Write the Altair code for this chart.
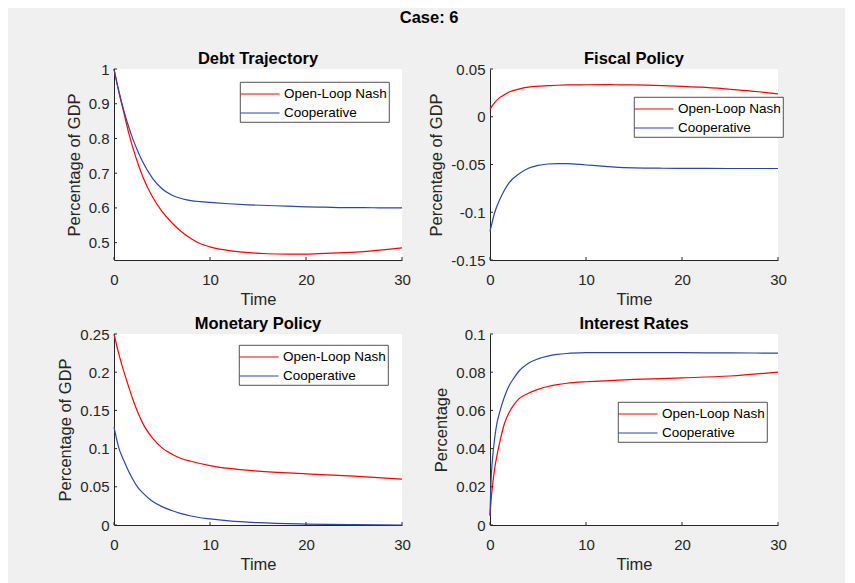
import altair as alt
import pandas as pd

SERIES = ["Open-Loop Nash", "Cooperative"]
COLORS = ["#ff0000", "#2a46a8"]

# Debt Trajectory
debt_t = [0, 0.5, 1, 1.5, 2, 2.5, 3, 4, 5, 6, 7, 8, 9, 10, 12, 14, 16, 18, 20, 22, 24, 26, 28, 30]
debt_oln = [1.0, 0.934, 0.877, 0.819, 0.770, 0.727, 0.690, 0.632, 0.590, 0.558, 0.532, 0.512, 0.497,
            0.488, 0.477, 0.471, 0.468, 0.467, 0.467, 0.469, 0.471, 0.474, 0.479, 0.485]
debt_coop = [1.0, 0.937, 0.883, 0.836, 0.796, 0.762, 0.732, 0.686, 0.655, 0.637, 0.627, 0.621, 0.618,
             0.616, 0.612, 0.609, 0.607, 0.605, 0.603, 0.602, 0.601, 0.601, 0.600, 0.600]

# Fiscal Policy
fis_t = [0, 0.5, 1, 1.5, 2, 3, 4, 5, 6, 7, 8, 10, 12, 13, 15, 18, 20, 22, 25, 28, 30]
fis_oln = [0.008, 0.015, 0.020, 0.023, 0.026, 0.029, 0.031, 0.032, 0.0325, 0.033, 0.0333, 0.0335, 0.0336,
           0.0335, 0.0333, 0.0325, 0.0318, 0.031, 0.0288, 0.0262, 0.024]
fis_coop = [-0.120, -0.100, -0.087, -0.077, -0.069, -0.060, -0.054, -0.051, -0.0495, -0.049, -0.049,
            -0.0505, -0.052, -0.0527, -0.0535, -0.0539, -0.054, -0.0541, -0.0542, -0.0542, -0.0542]

# Monetary Policy
mon_t = [0, 0.5, 1, 1.5, 2, 2.5, 3, 4, 5, 6, 7, 8, 10, 12, 15, 20, 25, 30]
mon_oln = [0.250, 0.224, 0.202, 0.182, 0.163, 0.147, 0.133, 0.114, 0.101, 0.093, 0.087, 0.0835, 0.0778,
           0.0740, 0.0705, 0.067, 0.064, 0.060]
mon_coop = [0.128, 0.101, 0.085, 0.071, 0.059, 0.049, 0.042, 0.031, 0.024, 0.019, 0.0148, 0.0118, 0.008,
            0.0053, 0.003, 0.0012, 0.0004, 0.0]

# Interest Rates
int_t = [0, 0.1, 0.25, 0.5, 0.75, 1, 1.5, 2, 2.5, 3, 4, 5, 6, 7, 8, 10, 12, 15, 20, 25, 30]
int_oln = [0.005, 0.012, 0.020, 0.030, 0.037, 0.043, 0.053, 0.059, 0.063, 0.066, 0.069, 0.071, 0.0725,
           0.0735, 0.0742, 0.0750, 0.0755, 0.0762, 0.0770, 0.0780, 0.0800]
int_coop = [0.005, 0.022, 0.034, 0.046, 0.054, 0.059, 0.067, 0.073, 0.077, 0.0805, 0.0847, 0.0870, 0.0884,
            0.0893, 0.0898, 0.0902, 0.0903, 0.0903, 0.0902, 0.0901, 0.0900]

X_TICKS = [0, 10, 20, 30]

FONT = "Liberation Sans"
AX = "#262626"
W, H = 288, 191


def frame(t, a, b, key):
    rows = [{"t": ti, "v": vi, key: SERIES[0]} for ti, vi in zip(t, a)]
    rows += [{"t": ti, "v": vi, key: SERIES[1]} for ti, vi in zip(t, b)]
    return pd.DataFrame(rows)


def panel(t, a, b, key, title, ytitle, ydom, yticks, lx, ly):
    df = frame(t, a, b, key)
    xs = alt.Scale(domain=[0, 30], nice=False, zero=False)
    ys = alt.Scale(domain=ydom, nice=False, zero=False)
    xa = alt.Axis(values=X_TICKS, title="Time", labelExpr="'' + datum.value")
    ya = alt.Axis(values=yticks, title=ytitle, labelExpr="'' + datum.value")
    lines = alt.Chart(df).mark_line(strokeWidth=1.2, interpolate="monotone").encode(
        x=alt.X("t:Q", scale=xs, axis=xa),
        y=alt.Y("v:Q", scale=ys, axis=ya),
        color=alt.Color(f"{key}:N", scale=alt.Scale(domain=SERIES, range=COLORS),
                        legend=alt.Legend(orient="none", legendX=lx, legendY=ly, title=None)),
    )
    xt = alt.Chart(pd.DataFrame({"t": X_TICKS})).mark_rule(color=AX, strokeWidth=1).encode(
        x=alt.X("t:Q", scale=xs, axis=xa), y=alt.value(H), y2=alt.value(H - 3))
    yt = alt.Chart(pd.DataFrame({"v": yticks})).mark_rule(color=AX, strokeWidth=1).encode(
        y=alt.Y("v:Q", scale=ys, axis=ya), x=alt.value(0), x2=alt.value(3))
    return alt.layer(lines, xt, yt).properties(
        width=W, height=H, title=alt.TitleParams(title, offset=-5))


p1 = panel(debt_t, debt_oln, debt_coop, "s1", "Debt Trajectory", "Percentage of GDP",
           [0.45, 1.0], [0.5, 0.6, 0.7, 0.8, 0.9, 1], 126, 13)
p2 = panel(fis_t, fis_oln, fis_coop, "s2", "Fiscal Policy", "Percentage of GDP",
           [-0.15, 0.05], [-0.15, -0.1, -0.05, 0, 0.05], 144, 28)
p3 = panel(mon_t, mon_oln, mon_coop, "s3", "Monetary Policy", "Percentage of GDP",
           [0, 0.25], [0, 0.05, 0.1, 0.15, 0.2, 0.25], 125, 11)
p4 = panel(int_t, int_oln, int_coop, "s4", "Interest Rates", "Percentage",
           [0, 0.1], [0, 0.02, 0.04, 0.06, 0.08, 0.1], 128, 68)

chart = alt.concat(p1, p2, p3, p4, columns=2, spacing={"row": 74, "column": 88}, bounds="flush").properties(
    title=alt.TitleParams("Case: 6", fontSize=16.5, font=FONT, fontWeight="bold", color="#000000",
                          anchor="middle", offset=24, dx=7),
    background="#f0f0f0",
    padding={"left": 49, "top": 2, "right": 58, "bottom": 10},
).resolve_scale(
    color="independent"
).resolve_legend(
    color="independent"
).configure_view(
    fill="white", stroke=None
).configure_axis(
    grid=False, ticks=False, tickSize=0, domainColor=AX, domainWidth=1, labelFlush=False,
    labelFont=FONT, labelFontSize=15, labelColor=AX, labelPadding=5,
    titleFont=FONT, titleFontSize=16.5, titleColor=AX, titleFontWeight="normal",
).configure_axisX(
    labelPadding=12, titlePadding=4,
).configure_axisY(
    titlePadding=6,
).configure_title(
    font=FONT, fontSize=16.5, fontWeight="bold", color="#000000",
).configure_legend(
    symbolType="M-2.17,0L2.17,0", symbolSize=324, symbolStrokeWidth=1.2, symbolOffset=8,
    labelFont=FONT, labelFontSize=13.5,
    labelColor="#000000", labelOffset=14, rowPadding=2, padding=2, fillColor="white",
    strokeColor=AX, strokeWidth=0.8, cornerRadius=0,
)

chart.save("out.html", embed_options={"renderer": "svg", "actions": False})
